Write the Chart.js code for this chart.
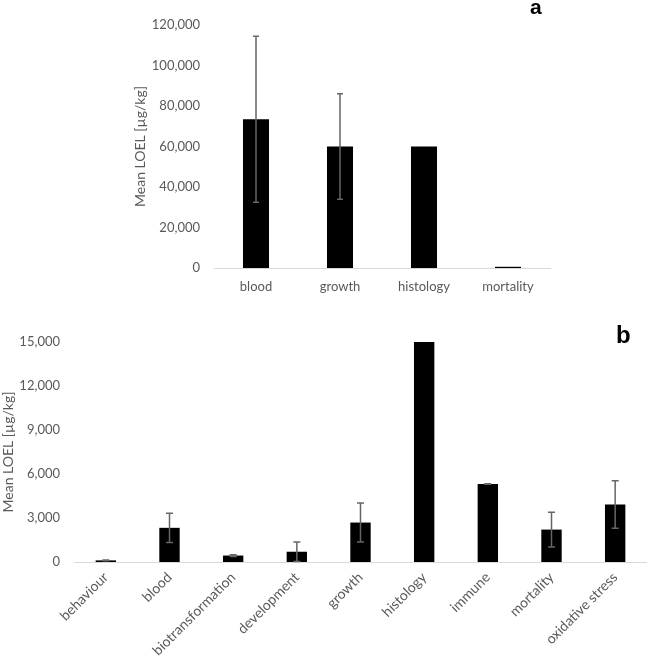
<!DOCTYPE html>
<html>
<head>
<meta charset="utf-8">
<script src="https://cdn.jsdelivr.net/npm/chart.js@4"></script>
<style>
    body { margin: 0; background: #fff; }
    #wrap { position: relative; width: 647px; height: 656px; overflow: hidden; }
    #chartA { position: absolute; left: 0; top: 0; }
    #chartB { position: absolute; left: 0; top: 310px; }
    .panel { position: absolute; font-family: "Liberation Sans", Arial, sans-serif; font-weight: bold; color: #000; }
</style>
</head>
<body>
<div id="wrap">
    <canvas id="chartA" width="647" height="310"></canvas>
    <canvas id="chartB" width="647" height="346"></canvas>
    <div class="panel" style="left:530px; top:-4px; font-size:21px; line-height:21px;">a</div>
    <div class="panel" style="left:616px; top:323px; font-size:24px; line-height:24px;">b</div>
</div>
<script>
/* ================================
   Data
================================ */
const catsA = ["blood", "growth", "histology", "mortality"];
const meanA = [73500, 60000, 60000, 600];
const errA = [41000, 26000, 0, 0];
const ticksA = { max: 120000, step: 20000 };

const catsB = ["behaviour", "blood", "biotransformation", "development", "growth",
               "histology", "immune", "mortality", "oxidative stress"];
const meanB = [110, 2330, 440, 700, 2690, 15000, 5320, 2210, 3920];
const errB = [20, 1000, 60, 660, 1330, 0, 20, 1190, 1620];
const ticksB = { max: 15000, step: 3000 };

const yTitle = "Mean LOEL [µg/kg]";
const textColor = "#595959";
const fontFamily = "Lato, 'Open Sans', sans-serif";

/* ================================
   Error bar plugin
================================ */
const errorBars = {
    id: "errorBars",
    afterDatasetsDraw(chart, args, opts) {
        const errs = opts.errors || [];
        const meta = chart.getDatasetMeta(0);
        const yScale = chart.scales.y;
        const values = chart.data.datasets[0].data;
        const ctx = chart.ctx;
        ctx.save();
        ctx.strokeStyle = "#666666";
        ctx.lineWidth = 1.5;
        meta.data.forEach((bar, i) => {
            const e = errs[i];
            if (!e) return;
            const top = yScale.getPixelForValue(values[i] + e);
            const bot = yScale.getPixelForValue(Math.max(0, values[i] - e));
            const half = opts.cap / 2;
            ctx.beginPath();
            ctx.moveTo(bar.x, top);
            ctx.lineTo(bar.x, bot);
            ctx.moveTo(bar.x - half, top);
            ctx.lineTo(bar.x + half, top);
            ctx.moveTo(bar.x - half, bot);
            ctx.lineTo(bar.x + half, bot);
            ctx.stroke();
        });
        ctx.restore();
    }
};

/* ================================
   Chart builder
================================ */
function makeChart(id, cats, means, errs, tickCfg, cfg) {
    return new Chart(document.getElementById(id), {
        type: "bar",
        data: {
            labels: cats,
            datasets: [{
                data: means,
                backgroundColor: "#000000",
                borderWidth: 0,
                barPercentage: cfg.barPct,
                categoryPercentage: 1
            }]
        },
        options: {
            responsive: false,
            animation: false,
            layout: { padding: cfg.padding },
            plugins: {
                legend: { display: false },
                tooltip: { enabled: false },
                errorBars: { errors: errs, cap: cfg.cap }
            },
            scales: {
                x: {
                    grid: { display: false, drawTicks: false },
                    border: { display: true, color: "#d9d9d9", width: 1 },
                    ticks: {
                        color: textColor,
                        font: { family: fontFamily, size: cfg.xFont },
                        padding: cfg.xPad,
                        minRotation: cfg.rot,
                        maxRotation: cfg.rot,
                        autoSkip: false
                    },
                    afterFit: s => {
                        s.height = cfg.xHeight;
                        s.paddingLeft = 0;
                        s.paddingRight = 0;
                    }
                },
                y: {
                    min: 0,
                    max: tickCfg.max,
                    grid: { display: false, drawTicks: false },
                    border: { display: false },
                    ticks: {
                        stepSize: tickCfg.step,
                        color: textColor,
                        font: { family: fontFamily, size: 13 },
                        padding: 14,
                        callback: v => v.toLocaleString("en-US")
                    },
                    title: {
                        display: true,
                        text: yTitle,
                        color: textColor,
                        font: { family: fontFamily, size: 14 },
                        padding: cfg.titlePad
                    },
                    afterFit: s => {
                        s.width = cfg.yWidth;
                        s.paddingTop = 0;
                        s.paddingBottom = 0;
                    }
                }
            }
        },
        plugins: [errorBars]
    });
}

makeChart("chartA", catsA, meanA, errA, ticksA, {
    padding: { left: 128, right: 97, top: 25, bottom: 2 },
    yWidth: 86, xHeight: 40, xPad: 11, xFont: 13, rot: 0,
    barPct: 0.31, cap: 6, titlePad: { top: 4, bottom: 4 }
});

makeChart("chartB", catsB, meanB, errB, ticksB, {
    padding: { left: 0, right: 0, top: 32, bottom: 0 },
    yWidth: 74, xHeight: 94, xPad: 7, xFont: 14, rot: 45,
    barPct: 0.32, cap: 7, titlePad: { top: 0, bottom: 0 }
});
</script>
</body>
</html>
